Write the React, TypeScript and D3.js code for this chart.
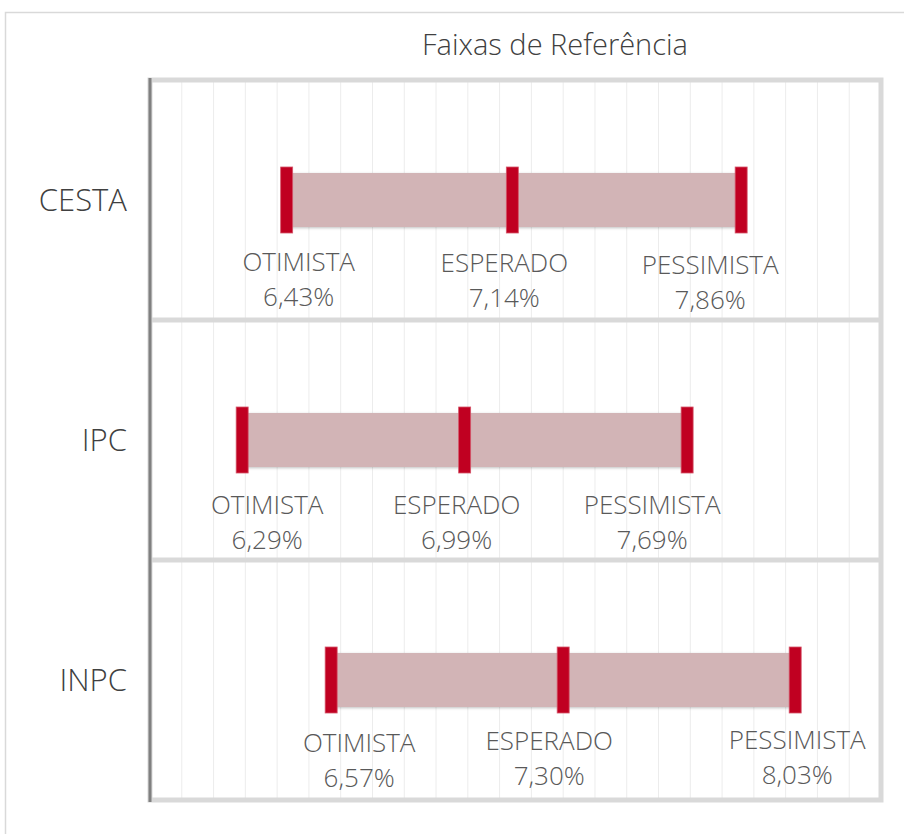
import React from "react";
import * as d3 from "d3";

const title = "Faixas de Referência";
const categories = ["CESTA", "IPC", "INPC"];
const scenarioNames = ["OTIMISTA", "ESPERADO", "PESSIMISTA"];
const otimista = [6.43, 6.29, 6.57];
const esperado = [7.14, 6.99, 7.3];
const pessimista = [7.86, 7.69, 8.03];
const axisMin = 6.0;
const axisMax = 8.3;
const gridStep = 0.1;

// layout nudges for data labels (pixels), per category, per scenario
const labelDx = [
  [12, -8, -31],
  [25, -8, -35],
  [28, -14, 2],
];
const labelDy = [
  [0, 1, 3],
  [3, 3, 3],
  [1, -1, -2],
];

const W = 904;
const H = 834;
const plot = { left: 150, right: 881, top: 80, bottom: 800 };
const FONT = "'Open Sans', 'Noto Sans', sans-serif";

export default function App() {
  const x = d3.scaleLinear().domain([axisMin, axisMax]).range([plot.left, plot.right]);
  const y = d3.scaleBand<string>().domain(categories).range([plot.top, plot.bottom]).padding(0);
  const grid = d3.range(axisMin, axisMax + 1e-9, gridStep);
  const fmt = (v: number) => v.toFixed(2).replace(".", ",") + "%";
  const barH = 54;
  const markW = 12;
  const markH = 66;

  return (
    <svg
      width={W}
      height={H}
      style={{ position: "absolute", left: 0, top: 0, background: "#fff" }}
      fontFamily={FONT}
    >
      <defs>
        <filter id="shadow" x="-5%" y="-30%" width="110%" height="160%">
          <feGaussianBlur in="SourceAlpha" stdDeviation="1.5" />
          <feOffset dx="0" dy="1" result="b" />
          <feComponentTransfer>
            <feFuncA type="linear" slope="0.25" />
          </feComponentTransfer>
          <feMerge>
            <feMergeNode />
            <feMergeNode in="SourceGraphic" />
          </feMerge>
        </filter>
      </defs>
      {/* card border */}
      <rect x={5.5} y={12.5} width={W + 20} height={H + 20} fill="#fff" stroke="#d9d9d9" strokeWidth={1.5} />

      <text x={555} y={47} textAnchor="middle" dominantBaseline="middle" fontSize={29} fontWeight={300} fill="#404040">
        {title}
      </text>

      {/* vertical gridlines */}
      {grid.map((g, i) => (
        <line key={i} x1={x(g)} x2={x(g)} y1={plot.top} y2={plot.bottom} stroke="#ececec" strokeWidth={1} />
      ))}

      {/* band borders */}
      <rect
        x={plot.left}
        y={plot.top}
        width={plot.right - plot.left}
        height={plot.bottom - plot.top}
        fill="none"
        stroke="#d9d9d9"
        strokeWidth={5}
      />
      {categories.slice(1).map((c) => (
        <line key={c} x1={plot.left} x2={plot.right} y1={y(c)!} y2={y(c)!} stroke="#d9d9d9" strokeWidth={5} />
      ))}
      <line x1={plot.left} x2={plot.left} y1={plot.top - 2} y2={plot.bottom + 2} stroke="#808080" strokeWidth={3} />

      {categories.map((c, i) => {
        const cy = y(c)! + y.bandwidth() / 2;
        const vals = [otimista[i], esperado[i], pessimista[i]];
        return (
          <g key={c}>
            <text x={127} y={cy + 3} textAnchor="end" dominantBaseline="middle" fontSize={31} fontWeight={300} fill="#404040">
              {c}
            </text>
            <rect
              x={x(otimista[i])}
              y={cy - barH / 2}
              width={x(pessimista[i]) - x(otimista[i])}
              height={barH}
              fill="#d2b4b6"
              filter="url(#shadow)"
            />
            {vals.map((v, j) => (
              <rect
                key={j}
                x={x(v) - markW / 2}
                y={cy - markH / 2}
                width={markW}
                height={markH}
                fill="#c00021"
                stroke="#d4566a"
                strokeWidth={0.8}
              />
            ))}
            {vals.map((v, j) => {
              const lx = x(v) + labelDx[i][j];
              const ly = cy + 64 + labelDy[i][j];
              return (
                <g key={"l" + j}>
                  <text x={lx} y={ly} textAnchor="middle" dominantBaseline="middle" fontSize={26} fontWeight={300} fill="#595959">
                    {scenarioNames[j]}
                  </text>
                  <text x={lx} y={ly + 35} textAnchor="middle" dominantBaseline="middle" fontSize={26} fontWeight={300} fill="#595959">
                    {fmt(v)}
                  </text>
                </g>
              );
            })}
          </g>
        );
      })}
    </svg>
  );
}
